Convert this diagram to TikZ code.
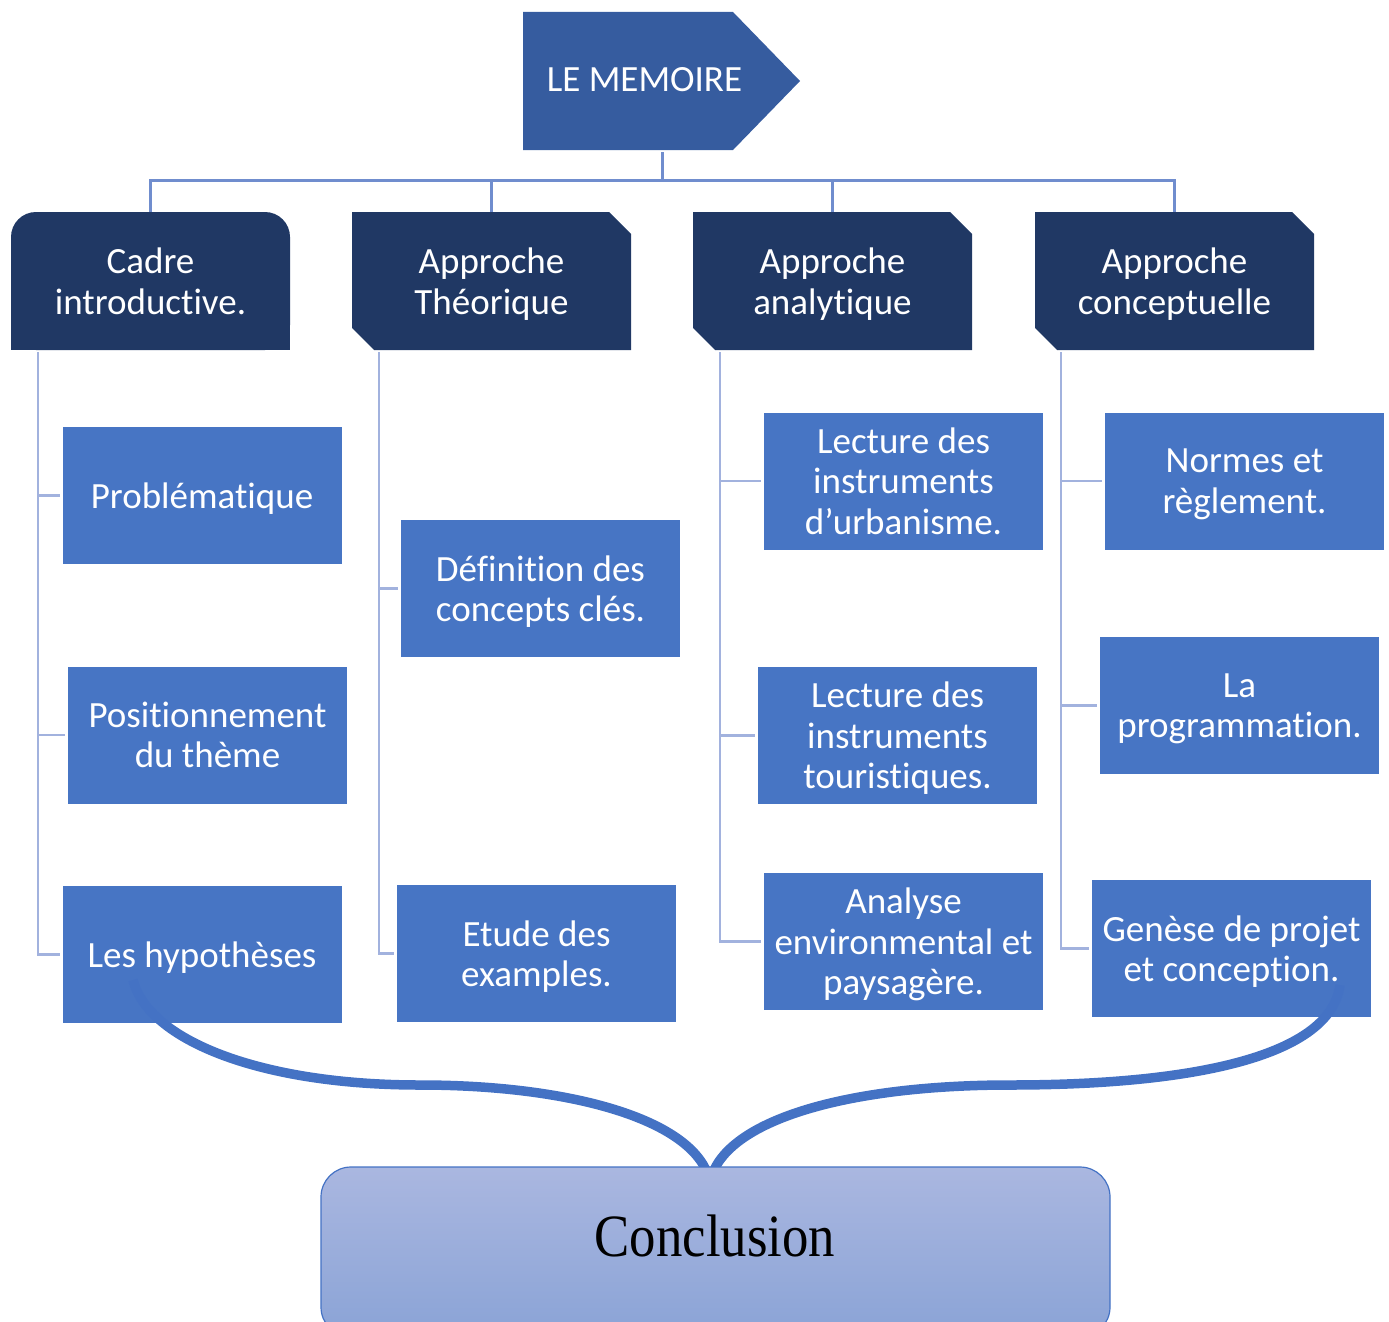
\documentclass[tikz,border=0pt]{standalone}
\usepackage{fontspec}
\setmainfont{Carlito}[Ligatures=NoCommon]
\newfontfamily\conclfont[FakeStretch=0.88]{Liberation Serif}
\usetikzlibrary{backgrounds}
\definecolor{memo}{RGB}{54,92,159}
\definecolor{navy}{RGB}{32,56,100}
\definecolor{childblue}{RGB}{71,117,196}
\definecolor{busblue}{RGB}{112,141,206}
\definecolor{brkblue}{RGB}{162,178,222}
\definecolor{braceblue}{RGB}{68,114,196}
\definecolor{conctop}{RGB}{170,183,224}
\definecolor{concbot}{RGB}{138,163,214}
\begin{document}
\begin{tikzpicture}[x=1pt,y=-1pt,
  lbl/.style={font=\fontsize{37}{40.5}\selectfont, text=white, align=center, inner sep=0pt,
    execute at begin node=\strut, execute at end node=\strut},
  headbox/.style={minimum width=279pt, minimum height=138pt, inner sep=0pt, outer sep=0pt},
  childbox/.style={fill=childblue, minimum width=279pt, minimum height=137pt, inner sep=0pt, outer sep=0pt},
  busline/.style={draw=busblue, line width=3pt},
  bracketline/.style={draw=brkblue, line width=2.6pt},
  braceline/.style={draw=braceblue, line width=9.5pt},
]
\useasboundingbox (0,0) rectangle (1389,1322);

% title arrow
\fill[memo] (523,12) -- (733,12) -- (800,81) -- (733,150) -- (523,150) -- cycle;
\node[font=\fontsize{37}{40.5}\selectfont, text=white, anchor=base] (memoire) at (644.5,92) {LE MEMOIRE};
\coordinate (mbot) at (662,152);
\coordinate (bus) at (662,180);

% headers (shapes)
\node[headbox] (h1) at (150.5,281) {};
\node[headbox] (h2) at (491.5,281) {};
\node[headbox] (h3) at (832.5,281) {};
\node[headbox] (h4) at (1174.5,281) {};
\fill[navy, rounded corners=25pt] (h1.north west) rectangle (h1.south east);
\fill[navy] (h1.west) rectangle (h1.south east);
\foreach \h in {h2,h3,h4}
  \fill[navy] (\h.north west) -- ([xshift=-22pt]\h.north east) -- ([yshift=-22pt]\h.north east)
    -- (\h.south east) -- ([xshift=22pt]\h.south west) -- ([yshift=22pt]\h.south west) -- cycle;

% children (shapes)
\node[childbox] (p1) at (202,495.5) {};
\node[childbox] (p2) at (207.5,735) {};
\node[childbox] (p3) at (202,954.5) {};
\node[childbox] (d1) at (540.5,588.5) {};
\node[childbox] (d2) at (536.5,953.5) {};
\node[childbox] (a1) at (903.5,481) {};
\node[childbox] (a2) at (897.5,735.5) {};
\node[childbox] (a3) at (903.5,941.5) {};
\node[childbox] (c1) at (1244.5,481) {};
\node[childbox] (c2) at (1239.5,705.5) {};
\node[childbox] (c3) at (1231.5,948.5) {};

% texts
\node[lbl] (h1t) at ([yshift=-6pt]h1.center) {Cadre\\introductive.};
\node[lbl] (h2t) at ([yshift=-6pt]h2.center) {Approche\\Théorique};
\node[lbl] (h3t) at ([yshift=-6pt]h3.center) {Approche\\analytique};
\node[lbl] (h4t) at ([yshift=-6pt]h4.center) {Approche\\conceptuelle};
\node[lbl] (p1t) at ([yshift=-5pt]p1.center) {Problématique};
\node[lbl] (p2t) at ([yshift=-6pt]p2.center) {Positionnement\\du thème};
\node[lbl] (p3t) at ([yshift=-5pt]p3.center) {Les hypothèses};
\node[lbl] (d1t) at ([yshift=-6pt]d1.center) {Définition des\\concepts clés.};
\node[lbl] (d2t) at ([yshift=-6pt]d2.center) {Etude des\\examples.};
\node[lbl] (a1t) at ([yshift=-6pt]a1.center) {Lecture des\\instruments\\d’urbanisme.};
\node[lbl] (a2t) at ([yshift=-6pt]a2.center) {Lecture des\\instruments\\touristiques.};
\node[lbl] (a3t) at ([yshift=-6pt]a3.center) {Analyse\\environmental et\\paysagère.};
\node[lbl] (c1t) at ([yshift=-6pt]c1.center) {Normes et\\règlement.};
\node[lbl] (c2t) at ([yshift=-6pt]c2.center) {La\\programmation.};
\node[lbl] (c3t) at ([yshift=-6pt]c3.center) {Genèse de projet\\et conception.};

% bus connectors
\draw[busline] (mbot) -- (bus);
\draw[busline] (h1.north) |- (bus) -| (h4.north);
\draw[busline] (h2.north) -- (h2.north |- bus);
\draw[busline] (h3.north) -- (h3.north |- bus);

% brackets
\coordinate (b1) at ([xshift=27pt,yshift=-2pt]h1.south west);
\coordinate (b2) at ([xshift=27pt,yshift=-2pt]h2.south west);
\coordinate (b3) at ([xshift=27pt,yshift=-2pt]h3.south west);
\coordinate (b4) at ([xshift=26pt,yshift=-2pt]h4.south west);
\draw[bracketline] (b1) |- ([xshift=-3pt]p3.west);
\draw[bracketline] (b1 |- p1.west) -- ([xshift=-3pt]p1.west);
\draw[bracketline] (b1 |- p2.west) -- ([xshift=-3pt]p2.west);
\draw[bracketline] (b2) |- ([xshift=-3pt]d2.west);
\draw[bracketline] (b2 |- d1.west) -- ([xshift=-3pt]d1.west);
\draw[bracketline] (b3) |- ([xshift=-3pt]a3.west);
\draw[bracketline] (b3 |- a1.west) -- ([xshift=-3pt]a1.west);
\draw[bracketline] (b3 |- a2.west) -- ([xshift=-3pt]a2.west);
\draw[bracketline] (b4) |- ([xshift=-3pt]c3.west);
\draw[bracketline] (b4 |- c1.west) -- ([xshift=-3pt]c1.west);
\draw[bracketline] (b4 |- c2.west) -- ([xshift=-3pt]c2.west);

% brace
\coordinate (bl) at (133,980);
\coordinate (br) at (1340,985);
\coordinate (cjoin) at (710,1170);
\draw[braceline] (bl) .. controls (148,1040) and (260,1085) .. (420,1085)
  .. controls (560,1085) and (680,1115) .. ([xshift=-4pt]cjoin);
\draw[braceline] ([xshift=4pt]cjoin) .. controls (740,1115) and (860,1085) .. (1010,1085)
  .. controls (1180,1085) and (1330,1060) .. (br);

% conclusion
\node[draw=braceblue, line width=1.2pt, rounded corners=30pt, top color=conctop, bottom color=concbot,
  minimum width=789pt, minimum height=170pt, inner sep=0pt] (concl) at (715.5,1252) {};
\node[anchor=base, font=\conclfont\fontsize{60}{60}\selectfont, text=black] (concltext) at (715,1256) {Conclusion};
\end{tikzpicture}
\end{document}
